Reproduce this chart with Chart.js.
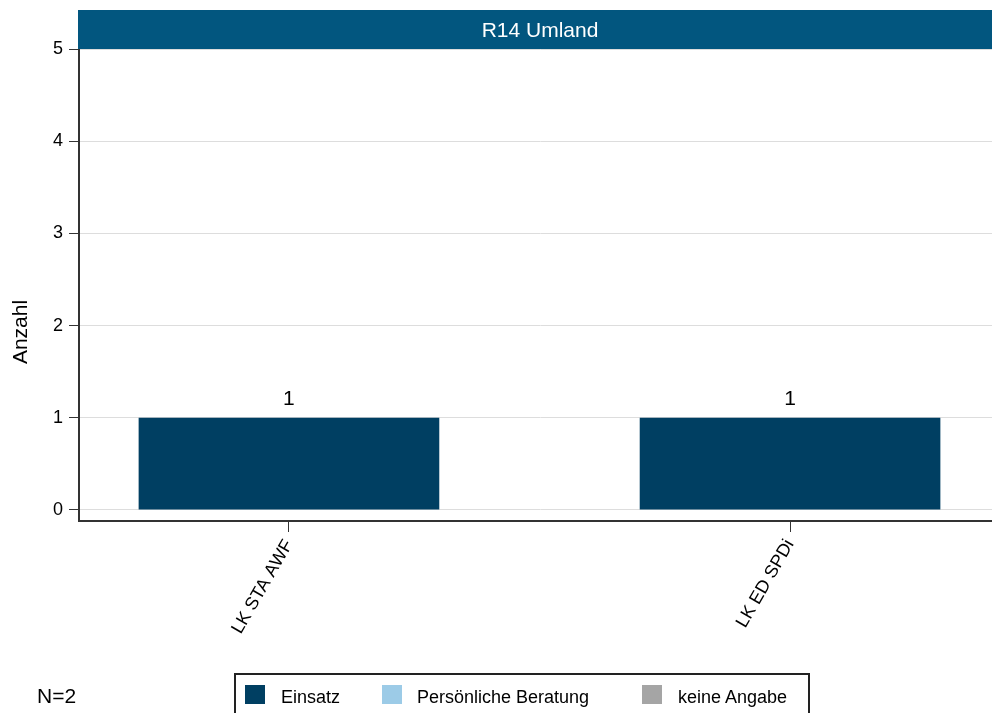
<!DOCTYPE html>
<html>
<head>
<meta charset="utf-8">
<script src="https://cdn.jsdelivr.net/npm/chart.js@4"></script>
<style>
  html, body { margin: 0; padding: 0; background: #fff; overflow: hidden; }
  body { width: 992px; height: 713px; position: relative; font-family: 'Liberation Sans', Arial, sans-serif; }
  #wrap { position: absolute; left: 0; top: 0; width: 1001px; height: 713px; }
  #legend { position: absolute; left: 234px; top: 673px; width: 576px; height: 60px; border: 2px solid #222; box-sizing: border-box; }
  .sq { position: absolute; width: 20px; height: 19px; top: 685px; }
  .lt { position: absolute; top: 688px; font-size: 18px; line-height: 18px; color: #000; white-space: nowrap; }
  #nlab { position: absolute; left: 37px; top: 685px; font-size: 21px; line-height: 21px; color: #000; }
</style>
</head>
<body>
<div id="wrap"><canvas id="chart"></canvas></div>
<div id="legend"></div>
<div id="nlab"></div>
<script>
// data
var categories = ['LK STA AWF', 'LK ED SPDi'];
var einsatz = [1, 1];
var beratung = [0, 0];
var keineAngabe = [0, 0];
var seriesNames = ['Einsatz', 'Persönliche Beratung', 'keine Angabe'];
var seriesColors = ['#003f62', '#9ccbe7', '#a5a5a5'];
var yTicks = [0, 1, 2, 3, 4, 5];
var chartTitle = 'R14 Umland';
var yTitle = 'Anzahl';
var nText = 'N=2';

var fontFam = "'Liberation Sans', Arial, sans-serif";
var series = [einsatz, beratung, keineAngabe];

var datasets = [];
for (var s = 0; s < series.length; s++) {
  datasets.push({
    label: seriesNames[s],
    data: categories.map(function (c, i) { return { x: i, y: series[s][i] }; }),
    backgroundColor: seriesColors[s],
    borderWidth: 0,
    barPercentage: 0.6,
    categoryPercentage: 1
  });
}

// header bar, y title and value labels
var extras = {
  id: 'extras',
  afterDraw: function (chart) {
    var ctx = chart.ctx;
    var area = chart.chartArea;
    ctx.save();
    ctx.fillStyle = '#02567f';
    ctx.fillRect(area.left - 1, 10, area.right - area.left + 1, area.top - 10);
    ctx.fillStyle = '#fff';
    ctx.font = '21px ' + fontFam;
    ctx.textAlign = 'center';
    ctx.textBaseline = 'middle';
    ctx.fillText(chartTitle, (area.left + area.right) / 2, 31);

    ctx.fillStyle = '#000';
    ctx.translate(21, 332);
    ctx.rotate(-Math.PI / 2);
    ctx.fillText(yTitle, 0, 0);
    ctx.restore();

    ctx.save();
    ctx.fillStyle = '#000';
    ctx.font = '21px ' + fontFam;
    ctx.textAlign = 'center';
    ctx.textBaseline = 'alphabetic';
    var meta = chart.getDatasetMeta(0);
    for (var i = 0; i < categories.length; i++) {
      var total = einsatz[i] + beratung[i] + keineAngabe[i];
      if (total > 0) {
        ctx.fillText(String(total), meta.data[i].x, chart.scales.y.getPixelForValue(total) - 13);
      }
    }
    ctx.restore();
  }
};

var config = {
  type: 'bar',
  data: { datasets: datasets },
  options: {
    responsive: true,
    maintainAspectRatio: false,
    animation: false,
    layout: { padding: { top: 49, left: 0, right: 0, bottom: 0 } },
    plugins: {
      legend: { display: false },
      tooltip: { enabled: false }
    },
    scales: {
      x: {
        type: 'linear',
        stacked: true,
        offset: false,
        min: -0.419,
        max: 1.421,
        afterBuildTicks: function (scale) {
          scale.ticks = categories.map(function (c, i) { return { value: i }; });
        },
        afterFit: function (scale) { scale.height = 192; },
        grid: { offset: false, drawOnChartArea: false, drawTicks: true, tickLength: 11, tickColor: '#333', tickWidth: 1 },
        border: { display: true, color: '#333', width: 2 },
        ticks: {
          autoSkip: false,
          minRotation: 60,
          maxRotation: 60,
          padding: 4,
          color: '#000',
          font: { family: fontFam, size: 18 },
          callback: function (v) { return categories[v]; }
        }
      },
      y: {
        stacked: true,
        min: -0.12,
        max: 5,
        afterBuildTicks: function (scale) {
          scale.ticks = yTicks.map(function (v) { return { value: v }; });
        },
        afterFit: function (scale) { scale.width = 79; },
        grid: { color: '#dddddd', lineWidth: 1, drawTicks: true, tickLength: 10, tickColor: '#333', tickWidth: 1 },
        border: { display: true, color: '#333', width: 2 },
        ticks: {
          padding: 6,
          color: '#000',
          font: { family: fontFam, size: 18 }
        }
      }
    }
  },
  plugins: [extras]
};

var myChart = new Chart(document.getElementById('chart'), config);

// legend + N
var sqX = [245, 382, 642];
var txX = [281, 417, 678];
var html = '';
for (var k = 0; k < seriesNames.length; k++) {
  html += '<div class="sq" style="left:' + sqX[k] + 'px;background:' + seriesColors[k] + '"></div>';
  html += '<div class="lt" style="left:' + txX[k] + 'px">' + seriesNames[k] + '</div>';
}
document.body.insertAdjacentHTML('beforeend', html);
document.getElementById('nlab').textContent = nText;
</script>
</body>
</html>
